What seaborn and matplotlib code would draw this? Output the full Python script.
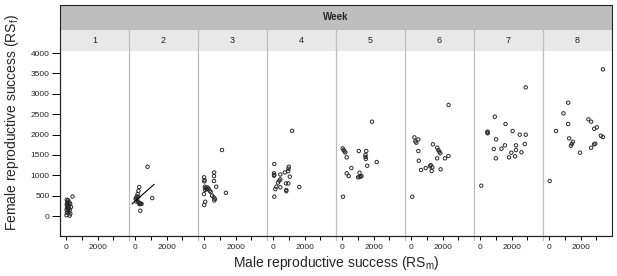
import matplotlib

matplotlib.use("Agg")
import matplotlib.pyplot as plt
import pandas as pd
import seaborn as sns
from matplotlib.lines import Line2D
from matplotlib.patches import Rectangle

# male (RS_m) and female (RS_f) reproductive success per week
week1_m = [30, 120, 60, 200, 100, 250, 30, 150, 80, 300, 50, 180, 120, 20, 220, 90, 160, 40, 260, 10, 220, 400, 70, 130]
week1_f = [400, 390, 350, 330, 300, 300, 280, 260, 240, 220, 210, 200, 180, 160, 150, 130, 100, 80, 60, 20, 10, 480, 300, 230]
week2_m = [780, 250, 200, 150, 100, 60, 20, 120, 50, 1080, 250, 300, 350, 400, 280, 200, 320, 180]
week2_f = [1210, 710, 620, 540, 480, 440, 420, 400, 360, 440, 320, 300, 300, 300, 290, 340, 130, 470]
week3_m = [1130, 630, 620, 620, -10, 20, 0, 760, 40, 90, 150, 280, 50, 350, -20, 410, 500, 600, 680, 640, 1380, 60, 0, 150, 200]
week3_f = [1620, 1070, 980, 860, 950, 880, 850, 720, 720, 690, 660, 670, 640, 620, 540, 590, 500, 460, 420, 380, 570, 350, 270, 670, 700]
week4_m = [1205, 65, 990, 970, 950, 45, 65, 45, 450, 735, 1055, 450, 385, 300, 195, 450, 130, 810, 960, 830, 830, 1660, 65]
week4_f = [2090, 1276, 1210, 1160, 1100, 1050, 1010, 990, 1020, 1070, 965, 900, 870, 820, 720, 705, 660, 800, 800, 640, 610, 712, 474]
week5_m = [1895, 25, 80, 140, 195, 1055, 1530, 1480, 1480, 1500, 280, 2195, 1590, 580, 280, 410, 1100, 1010, 1100, 1160, 1225, 45]
week5_f = [2315, 1660, 1620, 1590, 1560, 1595, 1595, 1500, 1450, 1400, 1440, 1325, 1235, 1178, 1048, 982, 1063, 950, 960, 970, 980, 474]
week6_m = [2380, 200, 450, 260, 320, 1380, 1650, 1720, 1790, 1850, 450, 1650, 480, 2150, 2370, 1240, 1200, 1340, 920, 620, 1300, 1870, 65]
week6_f = [2724, 1930, 1880, 1830, 1800, 1760, 1676, 1620, 1580, 1540, 1595, 1416, 1358, 1416, 1472, 1250, 1220, 1195, 1178, 1130, 1104, 1146, 474]
week7_m = [2900, 925, 1610, 470, 450, 470, 2064, 2515, 2900, 1010, 2840, 1570, 1350, 2280, 860, 2280, 1980, 2625, 1830, 2220, 990, 65]
week7_f = [3157, 2437, 2258, 2070, 2050, 2030, 2086, 1996, 1996, 1882, 1767, 1735, 1652, 1735, 1644, 1620, 1554, 1563, 1440, 1465, 1416, 744]
week8_m = [3420, 1206, 903, 1206, 2496, 2670, 432, 2864, 3030, 3290, 3420, 1270, 1510, 1440, 1380, 2860, 2930, 2670, 1960, 26]
week8_f = [3600, 2781, 2520, 2258, 2373, 2315, 2086, 2142, 2176, 1971, 1939, 1906, 1823, 1770, 1725, 1760, 1775, 1676, 1554, 859]

# fitted line shown in week 2
fit_m = [-210, 1200]
fit_f = [295, 778]

weeks = [1, 2, 3, 4, 5, 6, 7, 8]
rs_m = [week1_m, week2_m, week3_m, week4_m, week5_m, week6_m, week7_m, week8_m]
rs_f = [week1_f, week2_f, week3_f, week4_f, week5_f, week6_f, week7_f, week8_f]

x_ticks = [0, 1000, 2000, 3000]
x_tick_labels = ["0", "", "2000", ""]
y_ticks = [0, 500, 1000, 1500, 2000, 2500, 3000, 3500, 4000]

rows = []
for w, ms, fs in zip(weeks, rs_m, rs_f):
    for m, f in zip(ms, fs):
        rows.append({"week": w, "rs_m": m, "rs_f": f})
df = pd.DataFrame(rows)

sns.set_style("white")
plt.rcParams["font.family"] = ["Liberation Sans", "DejaVu Sans"]
plt.rcParams["mathtext.fontset"] = "custom"
plt.rcParams["mathtext.rm"] = "Liberation Sans"

W, H = 617, 276
g = sns.FacetGrid(df, col="week", col_order=weeks, sharex=True, sharey=True, despine=False, height=2, aspect=0.5)
g.map_dataframe(
    sns.scatterplot, x="rs_m", y="rs_f", marker="o", s=6, facecolor="none", edgecolor="#2a2a2a", linewidth=0.7
)
fig = g.figure
fig.set_size_inches(W / 100, H / 100)
fig.set_dpi(100)
g.set_titles("")
g.set_axis_labels("", "")

left, right, bottom, top = 60, 612, 236, 51
fig.subplots_adjust(left=left / W, right=right / W, bottom=1 - bottom / H, top=1 - top / H, wspace=0)

axes = g.axes.flatten()
g.axes[0][1].plot(fit_m, fit_f, color="black", linewidth=0.8)
for i, ax in enumerate(axes):
    ax.set_xlim(-400, 4000)
    ax.set_ylim(-490, 4050)
    ax.set_xticks(x_ticks)
    ax.set_xticklabels(x_tick_labels)
    ax.set_yticks(y_ticks)
    ax.tick_params(axis="x", direction="out", length=3, width=0.7, color="black", labelsize=6, pad=3, bottom=True)
    ax.tick_params(axis="y", direction="out", length=6, width=0.7, color="black", labelsize=6, pad=1.5, left=(i == 0))
    for side in ["top", "right", "left"]:
        ax.spines[side].set_visible(False)
    ax.spines["bottom"].set_color("#222222")
    ax.spines["bottom"].set_linewidth(0.8)
    if i == 0:
        ax.spines["left"].set_visible(True)
        ax.spines["left"].set_color("#222222")
        ax.spines["left"].set_linewidth(0.8)

# strips above the panels
fx = lambda px: px / W
fy = lambda py: 1 - py / H
fig.add_artist(Rectangle((fx(left), fy(30)), fx(right) - fx(left), fy(5) - fy(30), transform=fig.transFigure,
                         facecolor="#bebebe", edgecolor="none", zorder=0))
fig.add_artist(Rectangle((fx(left), fy(51)), fx(right) - fx(left), fy(30) - fy(51), transform=fig.transFigure,
                         facecolor="#e8e8e8", edgecolor="none", zorder=0))
fig.text(fx((left + right) / 2), fy(17.5), "Week", ha="center", va="center", fontsize=7, fontweight="bold")

panel_w = (right - left) / len(weeks)
for i, w in enumerate(weeks):
    cx = left + panel_w * (i + 0.5)
    fig.text(fx(cx), fy(40.5), str(w), ha="center", va="center", fontsize=6.5, color="#222222")
    if i > 0:
        xd = left + panel_w * i
        fig.add_artist(Line2D([fx(xd), fx(xd)], [fy(30), fy(240)], transform=fig.transFigure,
                              color="#bdbdbd", linewidth=0.9, zorder=3))

# outer frame
fig.add_artist(Rectangle((fx(left), fy(bottom)), fx(right) - fx(left), fy(5) - fy(bottom), transform=fig.transFigure,
                         facecolor="none", edgecolor="#222222", linewidth=0.8, zorder=5))

fig.text(fx(336), fy(263), r"Male reproductive success (RS$_\mathregular{m}$)", ha="center", va="center", fontsize=10)
fig.text(fx(12), fy(122), r"Female reproductive success (RS$_\mathregular{f}$)", ha="center", va="center",
         rotation=90, fontsize=10)

fig.savefig("out.png", dpi=100)
